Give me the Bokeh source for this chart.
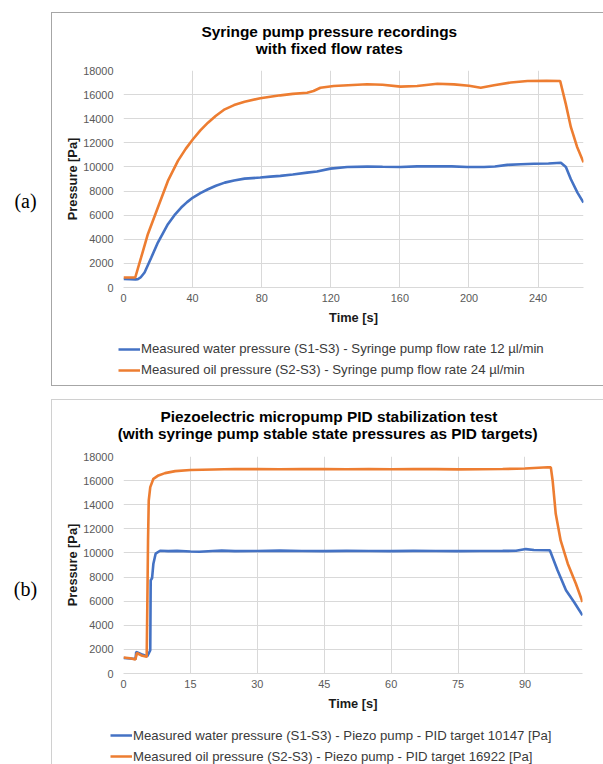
from bokeh.plotting import figure
from bokeh.models import (Range1d, FixedTicker, Label, Legend, LegendItem, InlineStyleSheet)
from bokeh.layouts import column, row
from bokeh.embed import file_html
from bokeh.resources import INLINE

FONT = "Liberation Sans"
BLUE = "#4472C4"
ORANGE = "#ED7D31"

# ---------------- data (a): syringe pump ----------------
a_title = ["Syringe pump pressure recordings", "with fixed flow rates"]
a_water_label = "Measured water pressure (S1-S3) - Syringe pump flow rate 12 µl/min"
a_oil_label = "Measured oil pressure (S2-S3) - Syringe pump flow rate 24 µl/min"
a_xticks = [0, 40, 80, 120, 160, 200, 240]
a_yticks = [0, 2000, 4000, 6000, 8000, 10000, 12000, 14000, 16000, 18000]

a_water_t = [0, 4, 7, 8.3, 10, 12.2, 16.1, 19.9, 25.7, 29.5, 33.4, 36.8, 40.2, 44.5, 48.9,
             53.5, 58.6, 64, 70.1, 79.2, 85, 90.8, 98, 106.3, 112, 119.8, 129.5, 141.1,
             150, 160.4, 170, 179.7, 190, 199, 208.7, 215, 222.2, 230, 237.7, 246, 253.2,
             256.1, 259, 262.8, 266.3]
a_water_p = [700, 690, 670, 680, 850, 1240, 2490, 3730, 5250, 6000, 6630, 7080, 7460, 7830,
             8150, 8440, 8700, 8880, 9030, 9120, 9200, 9260, 9380, 9530, 9620, 9860, 10000,
             10030, 10010, 10000, 10050, 10060, 10050, 10000, 9990, 10040, 10170, 10220,
             10260, 10290, 10350, 10000, 8980, 7870, 7040]

a_oil_t = [0, 3, 6.8, 10.2, 14.1, 19.9, 25.7, 31.5, 36, 40.2, 44.5, 48.9, 53.5, 58.6, 64,
           70.1, 79.2, 85, 90.8, 98, 106.3, 110, 114, 121.7, 130, 141.1, 150, 160.4, 170,
           181.7, 191.3, 200, 206.8, 214.5, 224.2, 233.9, 245, 252.8, 256, 259, 262.5,
           266.3]
a_oil_p = [830, 830, 829, 2490, 4420, 6630, 8840, 10500, 11500, 12300, 13030, 13670, 14250,
           14780, 15130, 15410, 15700, 15820, 15940, 16060, 16160, 16300, 16570, 16720,
           16780, 16860, 16820, 16660, 16710, 16900, 16850, 16740, 16570, 16780, 17000,
           17130, 17140, 17130, 15250, 13300, 11700, 10380]

# ---------------- data (b): piezo pump ----------------
b_title = ["Piezoelectric micropump PID stabilization test",
           "(with syringe pump stable state pressures as PID targets)"]
b_water_label = "Measured water pressure (S1-S3) - Piezo pump - PID target 10147 [Pa]"
b_oil_label = "Measured oil pressure (S2-S3) - Piezo pump - PID target 16922 [Pa]"
b_xticks = [0, 15, 30, 45, 60, 75, 90]
b_yticks = [0, 2000, 4000, 6000, 8000, 10000, 12000, 14000, 16000, 18000]

b_water_t = [0, 1.5, 2.7, 2.85, 4.0, 5.3, 5.7, 6.0, 6.1, 6.4, 6.7, 7.2, 8.2, 10, 12, 15,
             17, 20, 22, 25, 30, 35, 40, 45, 50, 55, 60, 65, 70, 75, 80, 85, 88, 90.2, 92,
             95.1, 95.6, 97.3, 99.2, 101.0, 102.9]
b_water_p = [1290, 1250, 1200, 1790, 1600, 1430, 1700, 1930, 7730, 7900, 9110, 9940, 10180,
             10150, 10170, 10120, 10100, 10160, 10190, 10150, 10160, 10190, 10160, 10150,
             10170, 10160, 10150, 10170, 10160, 10150, 10160, 10170, 10180, 10320, 10240,
             10220, 10210, 8560, 6900, 5930, 4830]

b_oil_t = [0, 1.5, 2.67, 3.0, 4.0, 5.2, 5.35, 5.5, 5.66, 6.0, 6.7, 7.84, 9.3, 11.6, 15,
           20.2, 25, 30, 35, 40, 45, 50, 55, 60, 65, 70, 75, 80, 85, 90, 95.1, 95.8, 96.2,
           96.9, 98.0, 99.6, 101.4, 102.9]
b_oil_p = [1330, 1260, 1160, 1700, 1500, 1380, 6000, 11000, 14350, 15460, 16150, 16430,
           16620, 16785, 16880, 16920, 16960, 16950, 16940, 16960, 16950, 16940, 16960,
           16940, 16960, 16950, 16930, 16940, 16960, 17000, 17110, 17100, 16010, 13250,
           11040, 9110, 7460, 5930]


def box_css(top=None, bottom=None, height=None, color="#a6a6a6"):
    """Grey panel frame drawn with CSS (left edge always, optional top/bottom)."""
    parts = [":host::after{content:'';position:absolute;left:0px;width:560px;",
             "box-sizing:border-box;pointer-events:none;",
             "border-left:1.5px solid %s;" % color]
    parts.append("top:%spx;" % (top if top is not None else 0))
    if height is not None:
        parts.append("height:%spx;" % height)
    else:
        parts.append("bottom:0px;")
    if top is not None:
        parts.append("border-top:1.5px solid %s;" % color)
    if bottom:
        parts.append("border-bottom:1.5px solid %s;" % color)
    parts.append("}")
    return InlineStyleSheet(css="".join(parts))


def blank_fig(width, height, css=None):
    p = figure(width=width, height=height, output_backend="svg", toolbar_location=None,
               title=None, x_axis_type=None, y_axis_type=None,
               x_range=Range1d(0, width), y_range=Range1d(height, 0),
               min_border=0, min_border_left=0, min_border_right=0,
               min_border_top=0, min_border_bottom=0, frame_align=False,
               stylesheets=[css] if css is not None else [])
    p.outline_line_color = None
    p.background_fill_color = "white"
    p.border_fill_color = "white"
    return p


def tag_fig(height, tag, tag_y):
    p = blank_fig(51, height)
    p.add_layout(Label(x=25, y=tag_y, text=tag, text_font="Liberation Serif",
                       text_font_size="20px", text_color="#000000",
                       text_align="center", text_baseline="middle"))
    return p


def title_fig(height, lines, xs, ys, css):
    p = blank_fig(552, height, css)
    for txt, xx, yy in zip(lines, xs, ys):
        p.add_layout(Label(x=xx, y=yy, text=txt, text_font=FONT,
                           text_font_size="15.4px", text_font_style="bold",
                           text_color="#000000", text_align="center",
                           text_baseline="middle"))
    return p


def chart_fig(height, mb_top, mb_bottom, mb_right, x_end, xticks, yticks, water, oil, css):
    p = figure(width=552, height=height, output_backend="svg", toolbar_location=None,
               title=None, x_range=Range1d(0, x_end), y_range=Range1d(0, 18000),
               min_border_left=72, min_border_right=mb_right,
               min_border_top=mb_top, min_border_bottom=mb_bottom, frame_align=False,
               stylesheets=[css])
    p.outline_line_color = None
    p.background_fill_color = "white"
    p.border_fill_color = "white"
    p.xaxis.ticker = FixedTicker(ticks=xticks)
    p.yaxis.ticker = FixedTicker(ticks=yticks)
    for ax in (p.xaxis[0], p.yaxis[0]):
        ax.major_tick_line_color = None
        ax.minor_tick_line_color = None
        ax.major_tick_out = 0
        ax.major_tick_in = 0
        ax.minor_tick_out = 0
        ax.major_label_text_font = FONT
        ax.major_label_text_font_size = "10.9px"
        ax.major_label_text_color = "#595959"
        ax.axis_label_text_font = FONT
        ax.axis_label_text_font_size = "12.8px"
        ax.axis_label_text_font_style = "bold"
        ax.axis_label_text_color = "#1a1a1a"
    p.xaxis.axis_line_color = "#d9d9d9"
    p.yaxis.axis_line_color = None
    p.xaxis.axis_label = "Time [s]"
    p.yaxis.axis_label = "Pressure [Pa]"
    p.xaxis.major_label_standoff = 6
    p.xaxis.axis_label_standoff = 5
    p.yaxis.major_label_standoff = 10
    p.yaxis.axis_label_standoff = 0
    p.xgrid.grid_line_color = "#d9d9d9"
    p.ygrid.grid_line_color = "#d9d9d9"
    p.line(water[0], water[1], line_color=BLUE, line_width=2.6)
    p.line(oil[0], oil[1], line_color=ORANGE, line_width=2.6)
    return p


def legend_fig(height, labels, loc, css):
    p = blank_fig(552, height, css)
    # legend proxies only (a single NaN point, nothing is drawn in the frame)
    rw = p.line(x=[float("nan")], y=[float("nan")], line_color=BLUE, line_width=2.5)
    ro = p.line(x=[float("nan")], y=[float("nan")], line_color=ORANGE, line_width=2.5)
    legend = Legend(items=[LegendItem(label=labels[0], renderers=[rw]),
                           LegendItem(label=labels[1], renderers=[ro])],
                    location=loc, orientation="vertical", padding=0, margin=0,
                    spacing=5, glyph_width=22, glyph_height=16, label_height=16,
                    label_standoff=1, label_text_font=FONT,
                    label_text_font_size="13.2px", label_text_color="#3a3a3a",
                    background_fill_alpha=0, border_line_alpha=0)
    p.add_layout(legend)
    return p


A_GREY = "#a6a6a6"
B_GREY = "#d0d0d0"

# panel (a): page rows 0..60 title, 60..332 chart, 332..392 legend
ta = title_fig(60, a_title, [277.8, 277.8], [30.7, 48.0], box_css(top=12.25, color=A_GREY))
ca = chart_fig(272, 10, 45, 20, 266.3, a_xticks, a_yticks,
               (a_water_t, a_water_p), (a_oil_t, a_oil_p), box_css(color=A_GREY))
la = legend_fig(60, [a_water_label, a_oil_label], (67, 14.5),
                box_css(bottom=True, height=53.75, color=A_GREY))
panel_a = row(tag_fig(392, "(a)", 200), column(ta, ca, la, spacing=0), spacing=0)

# panel (b): page rows 392..448 title, 448..718 chart, 718..764 legend
tb = title_fig(56, b_title, [277.5, 276.2], [24.0, 41.3], box_css(top=7.25, color=B_GREY))
cb = chart_fig(270, 8, 45, 21, 102.9, b_xticks, b_yticks,
               (b_water_t, b_water_p), (b_oil_t, b_oil_p), box_css(color=B_GREY))
lb = legend_fig(46, [b_water_label, b_oil_label], (59, 0), box_css(color=B_GREY))
panel_b = row(tag_fig(372, "(b)", 196.3), column(tb, cb, lb, spacing=0), spacing=0)

layout = column(panel_a, panel_b, spacing=0)
open("out.html", "w").write(file_html(layout, INLINE))
